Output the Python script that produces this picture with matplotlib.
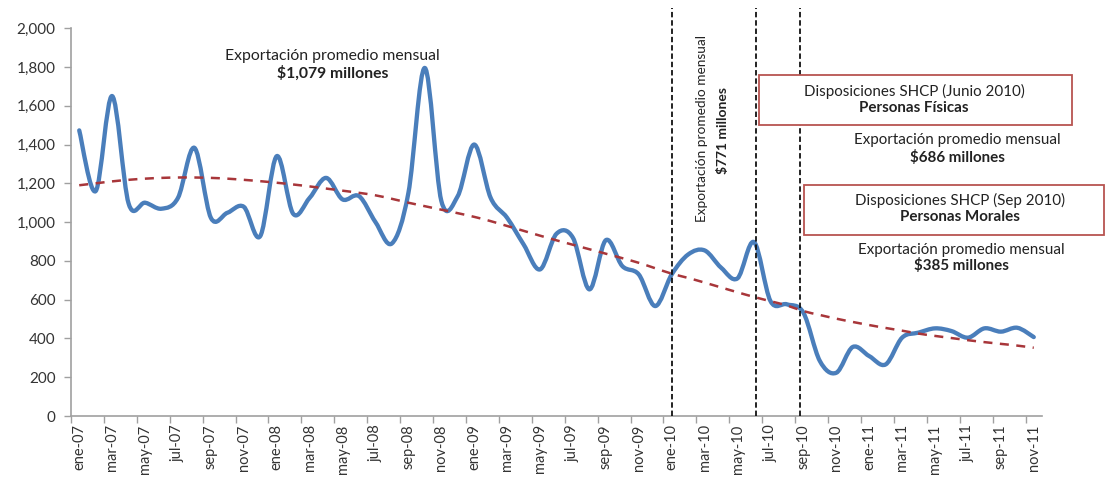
import matplotlib
matplotlib.use("Agg")
import matplotlib.pyplot as plt
from matplotlib.path import Path
from matplotlib.patches import PathPatch, Rectangle
import numpy as np

plt.rcParams['font.family'] = ['Lato', 'DejaVu Sans']

months_es = ["ene", "feb", "mar", "abr", "may", "jun", "jul", "ago", "sep", "oct", "nov", "dic"]
years = ["07", "08", "09", "10", "11"]
categories = [f"{m}-{y}" for y in years for m in months_es][:59]

exports = [1473, 1160, 1650, 1096, 1100, 1069, 1125, 1383, 1022, 1048, 1079, 928,
           1340, 1043, 1125, 1228, 1117, 1134, 1000, 890, 1150, 1795, 1110, 1134,
           1400, 1125, 1022, 885, 756, 940, 919, 653, 907, 773, 730, 567,
           730, 833, 854, 765, 710, 897, 593, 576, 533, 284, 223, 356,
           309, 266, 404, 430, 452, 438, 404, 452, 435, 455, 407]

trend = [1190, 1200, 1210, 1218, 1224, 1228, 1230, 1230, 1228, 1224, 1218, 1211,
         1203, 1194, 1184, 1173, 1162, 1151, 1138, 1120, 1100, 1082, 1064, 1046,
         1027, 1005, 980, 955, 930, 906, 883, 860, 837, 814, 790, 762,
         734, 712, 688, 663, 638, 614, 592, 570, 541, 521, 502, 485,
         469, 454, 440, 425, 413, 402, 391, 381, 372, 363, 352]

event_positions = [36, 41.1, 43.8]
yticks = [0, 200, 400, 600, 800, 1000, 1200, 1400, 1600, 1800, 2000]


def smooth_path(xs, ys, t=1/6):
    xs = np.asarray(xs, float); ys = np.asarray(ys, float)
    n = len(xs)
    verts = [(xs[0], ys[0])]
    codes = [Path.MOVETO]
    for i in range(n - 1):
        p0 = np.array([xs[max(i - 1, 0)], ys[max(i - 1, 0)]])
        p1 = np.array([xs[i], ys[i]])
        p2 = np.array([xs[i + 1], ys[i + 1]])
        p3 = np.array([xs[min(i + 2, n - 1)], ys[min(i + 2, n - 1)]])
        c1 = p1 + (p2 - p0) * t
        c2 = p2 - (p3 - p1) * t
        verts += [tuple(c1), tuple(c2), tuple(p2)]
        codes += [Path.CURVE4] * 3
    return Path(verts, codes)


fig = plt.figure(figsize=(11.05, 4.78), dpi=100)
ax = fig.add_axes([71 / 1105, 1 - 416 / 478, 971 / 1105, (416 - 28.2) / 478])

x = np.arange(len(categories))
ax.add_patch(PathPatch(smooth_path(x, exports), fill=False, edgecolor="#4A7EBB",
                       lw=3.1, capstyle="round", joinstyle="round", zorder=3))
ax.add_patch(PathPatch(smooth_path(x, trend), fill=False, edgecolor="#A8363A",
                       lw=1.8, linestyle=(0, (3.6, 3.0)), zorder=4))

for ep in event_positions:
    ax.plot([ep, ep], [0, 2105], color="#111111", lw=1.3, linestyle=(0, (3, 1.6)),
            clip_on=False, zorder=5)

ax.set_xlim(-0.5, len(categories) - 0.5)
ax.set_ylim(0, 2000)
ax.set_yticks(yticks)
ax.set_yticklabels([f"{v:,}" for v in yticks], fontsize=11, color="#333333")
ax.set_xticks(x[::2])
ax.set_xticklabels(categories[::2], rotation=90, fontsize=10.5, color="#333333")
ax.tick_params(axis="x", length=0, pad=6)
ax.set_xticks(np.arange(-0.5, len(categories), 2), minor=True)
ax.tick_params(axis="x", which="minor", length=5, color="#A0A0A0", width=1)
ax.tick_params(axis="y", length=5, color="#A0A0A0", width=1, pad=6)
for s in ["top", "right"]:
    ax.spines[s].set_visible(False)
for s in ["left", "bottom"]:
    ax.spines[s].set_color("#A0A0A0")
    ax.spines[s].set_linewidth(1.2)

def figtext(px, py, s, **kw):
    fig.text(px / 1105, 1 - py / 478, s, ha="center", va="center", color="#222222", **kw)

figtext(332, 56, "Exportación promedio mensual", fontsize=11.3)
figtext(333, 73, "$1,079 millones", fontsize=11.3, fontweight="bold")

figtext(702, 128, "Exportación promedio mensual", fontsize=9.8, rotation=90)
figtext(723, 131, "$771 millones", fontsize=10, rotation=90, fontweight="bold")

for (l, t, r, b) in [(759, 75, 1072, 124.5), (803.5, 185, 1104, 235)]:
    fig.add_artist(Rectangle((l / 1105, 1 - b / 478), (r - l) / 1105, (b - t) / 478,
                             transform=fig.transFigure, fill=True, facecolor="white",
                             edgecolor="#B85450", lw=1.3, zorder=6))

figtext(914, 91, "Disposiciones SHCP (Junio 2010)", fontsize=10.9, zorder=7)
figtext(914, 108, "Personas Físicas", fontsize=10.9, fontweight="bold", zorder=7)
figtext(957, 140, "Exportación promedio mensual", fontsize=10.9)
figtext(957, 157, "$686 millones", fontsize=10.9, fontweight="bold")
figtext(960, 200, "Disposiciones SHCP (Sep 2010)", fontsize=10.9, zorder=7)
figtext(960, 217, "Personas Morales", fontsize=10.9, fontweight="bold", zorder=7)
figtext(961, 250, "Exportación promedio mensual", fontsize=10.9)
figtext(961, 266, "$385 millones", fontsize=10.9, fontweight="bold")

fig.savefig("out.png", dpi=100)
